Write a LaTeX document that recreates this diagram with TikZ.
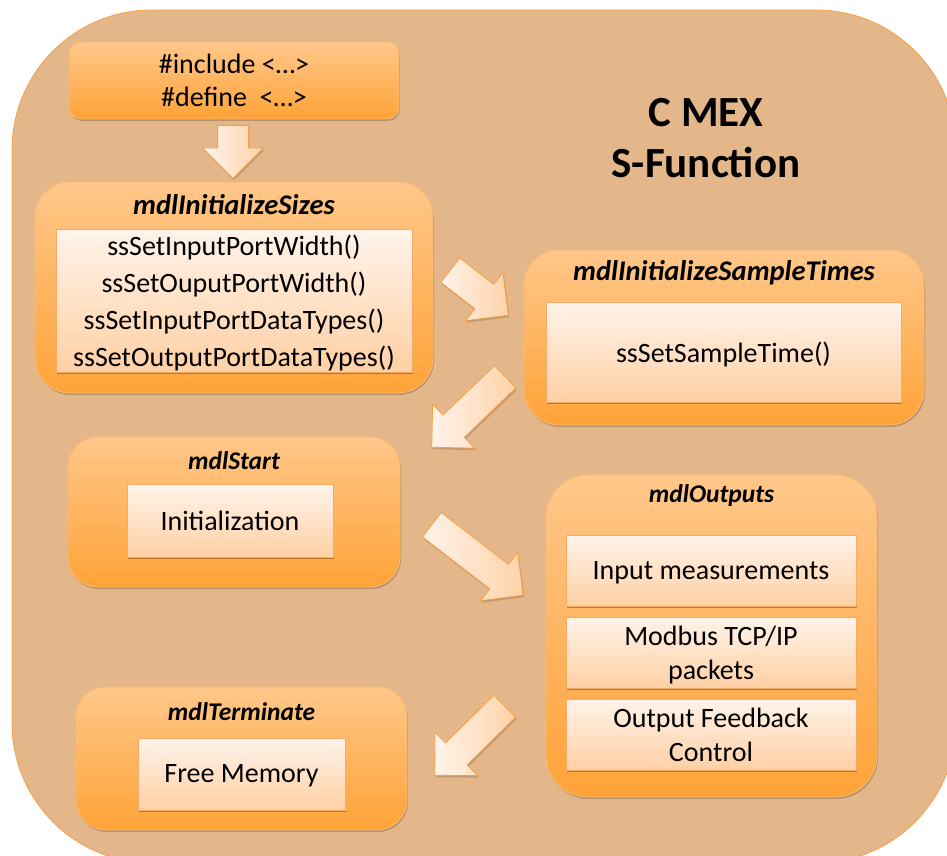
\documentclass[tikz,border=0pt]{standalone}
\usepackage{fontspec}
\setmainfont{Carlito}
\usetikzlibrary{shapes.arrows,shadows,calc}
\definecolor{bgfill}{RGB}{228,183,138}
\definecolor{bgline}{RGB}{246,160,70}
\definecolor{grouptop}{RGB}{255,199,138}
\definecolor{groupbot}{RGB}{255,163,56}
\definecolor{groupline}{RGB}{252,186,116}
\definecolor{itemtop}{RGB}{255,243,234}
\definecolor{itembot}{RGB}{255,208,164}
\definecolor{itemline}{RGB}{242,172,104}
\definecolor{arrowtail}{RGB}{255,243,234}
\definecolor{arrowhead}{RGB}{255,211,168}
\tikzset{
  groupbox/.style={draw=groupline,line width=0.8pt,top color=grouptop,bottom color=groupbot,inner sep=0pt,rounded corners=#1,
    drop shadow={shadow xshift=1pt,shadow yshift=-2pt,opacity=0.2,fill=black}},
  itembox/.style={draw=itemline,line width=0.6pt,top color=itemtop,bottom color=itembot,inner sep=0pt,align=center,text depth=0pt,
    font=\fontsize{28}{34}\selectfont,drop shadow={shadow xshift=1pt,shadow yshift=-2pt,opacity=0.5,fill=black!50!orange}},
  grouptitle/.style={font=\fontsize{#1}{30}\selectfont\bfseries\itshape},
  grouptitle/.default=25.5,
  flowarr/.style={single arrow,draw=bgline,line width=0.8pt,left color=arrowtail,right color=arrowhead,
    inner xsep=0pt,inner ysep=15pt,minimum width=60pt,single arrow head extend=15pt,single arrow tip angle=90,
    drop shadow={shadow xshift=1pt,shadow yshift=-2pt,opacity=0.15,fill=black}}
}
\newcommand\flowarrow[2]{%
  \path let \p1=($(#2)-(#1)$), \n1={atan2(\y1,\x1)}, \n2={veclen(\x1,\y1)} in
    node[flowarr,minimum height=\n2,rotate=\n1,anchor=tail] at (#1) {};}
\begin{document}
\begin{tikzpicture}[x=1pt,y=-1pt,line join=round]
\useasboundingbox (0,0) rectangle (947,856);
\clip (0,0) rectangle (947,856);
\draw[bgline,fill=bgfill,line width=0.8pt,rounded corners=140] (12,10) rectangle (956,863);
\node[align=center,font=\fontsize{43}{51}\selectfont\bfseries] (cmex) at (706,138) {C MEX\\S-Function};

\node[groupbox=12,minimum width=330,minimum height=77,align=center,text depth=0pt,font=\fontsize{28}{33}\selectfont] (incl) at (234,80.5) {\#include <…>\\\#define\ \ <…>};

\node[groupbox=35,minimum width=398,minimum height=211] (sizes) at (234,287.5) {};
\node[grouptitle=28.5] (sizes-t) at (234,205) {mdlInitializeSizes};
\node[itembox,font=\fontsize{28}{37}\selectfont,minimum width=356,minimum height=143] (sizes-i) at (234,300.5)
  {ssSetInputPortWidth()\\ssSetOuputPortWidth()\\ssSetInputPortDataTypes()\\ssSetOutputPortDataTypes()};

\node[groupbox=35,minimum width=400,minimum height=175] (times) at (724,337.5) {};
\node[grouptitle=28.5] (times-t) at (724,273) {mdlInitializeSampleTimes};
\node[itembox,minimum width=355,minimum height=100] (times-i) at (723.5,352) {ssSetSampleTime()};

\node[groupbox=30,minimum width=332,minimum height=150] (start) at (234,512) {};
\node[grouptitle] (start-t) at (234,461) {mdlStart};
\node[itembox,minimum width=206,minimum height=73] (start-i) at (230,520.5) {Initialization};

\node[groupbox=42,minimum width=331,minimum height=322] (outputs) at (711.5,636) {};
\node[grouptitle] (outputs-t) at (711.5,496) {mdlOutputs};
\foreach \t/\y/\n in {{Input measurements}/570.5/1,{Modbus TCP/IP\\packets}/652.5/2,{Output Feedback\\Control}/734.5/3}
  \node[itembox,minimum width=290,minimum height=71] (outputs-\n) at (711,\y) {\t};

\node[groupbox=30,minimum width=331,minimum height=143] (term) at (241.5,758.5) {};
\node[grouptitle] (term-t) at (241.5,712) {mdlTerminate};
\node[itembox,minimum width=207,minimum height=72] (term-i) at (241.5,774) {Free Memory};

\coordinate (a0s) at (233,125); \coordinate (a0e) at (233,178);
\coordinate (a1s) at (450,270); \coordinate (a1e) at (508,315);
\coordinate (a2s) at (505.5,376.5); \coordinate (a2e) at (432,447);
\coordinate (a3s) at (431.5,524.5); \coordinate (a3e) at (523,595);
\coordinate (a4s) at (505,706); \coordinate (a4e) at (435,775);
\foreach \i in {0,...,4}{\flowarrow{a\i s}{a\i e}}
\end{tikzpicture}
\end{document}
